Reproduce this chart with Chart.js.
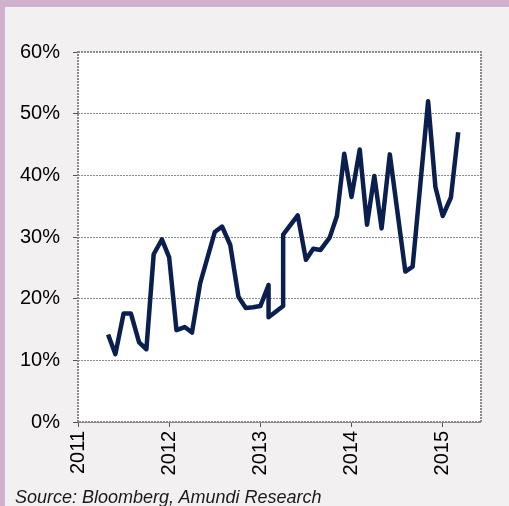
<!DOCTYPE html>
<html>
<head>
<meta charset="utf-8">
<script src="https://cdn.jsdelivr.net/npm/chart.js@4"></script>
<style>
  html, body { margin: 0; padding: 0; }
  body { width: 509px; height: 506px; overflow: hidden; position: relative;
         background: #f2f0f1; font-family: "Liberation Sans", Arial, sans-serif; }
  #topband { position: absolute; left: 0; top: 0; width: 509px; height: 7px; background: #d0b2cf; }
  #leftband { position: absolute; left: 0; top: 0; width: 5px; height: 506px; background: #d0b2cf; }
  #wrap { position: absolute; left: 0; top: 0; width: 509px; height: 506px; }
  #source { position: absolute; left: 15px; top: 488px; font-size: 18px; line-height: 18px;
            font-style: italic; color: #1a1a1a; white-space: nowrap; }
</style>
</head>
<body>
<div id="topband"></div>
<div id="leftband"></div>
<div id="wrap"><canvas id="chart" width="509" height="506"></canvas></div>
<div id="source">Source: Bloomberg, Amundi Research</div>
<script>
// x position of each reading, as a decimal year
const dates = [
  2011.33, 2011.41, 2011.50, 2011.58, 2011.67, 2011.75, 2011.83, 2011.92,
  2012.00, 2012.08, 2012.17, 2012.25, 2012.34, 2012.50, 2012.58, 2012.67,
  2012.76, 2012.84, 2012.92, 2013.00, 2013.09, 2013.09, 2013.25, 2013.25,
  2013.41, 2013.50, 2013.58, 2013.66, 2013.76, 2013.84, 2013.92, 2014.00,
  2014.09, 2014.17, 2014.25, 2014.33, 2014.42, 2014.59, 2014.67, 2014.84,
  2014.92, 2015.00, 2015.09, 2015.17
];
// values in %
const values = [
  14.2, 11.0, 17.6, 17.6, 12.9, 11.8, 27.2, 29.6,
  26.7, 14.9, 15.4, 14.5, 22.5, 30.8, 31.7, 28.7,
  20.3, 18.5, 18.6, 18.8, 22.2, 17.0, 18.8, 30.4,
  33.5, 26.3, 28.1, 27.9, 29.9, 33.4, 43.5, 36.5,
  44.2, 32.0, 39.9, 31.4, 43.4, 24.4, 25.2, 52.0,
  38.1, 33.4, 36.4, 47.0
];
const yearTicks = [2011, 2012, 2013, 2014, 2015];
const xMin = 2011, xMax = 2015.42;
const yMin = 0, yMax = 60, yStep = 10;

const points = dates.map((d, i) => ({ x: d, y: values[i] }));

// dotted box round the plot area
const frame = {
  id: 'frame',
  afterDatasetsDraw(chart) {
    const a = chart.chartArea;
    const ctx = chart.ctx;
    ctx.save();
    ctx.strokeStyle = '#8a8a8a';
    ctx.lineWidth = 2;
    ctx.setLineDash([2, 1]);
    ctx.strokeRect(a.left, a.top, a.right - a.left, a.bottom - a.top);
    ctx.restore();
  }
};

const whiteArea = {
  id: 'whiteArea',
  beforeDraw(chart) {
    const a = chart.chartArea;
    const ctx = chart.ctx;
    ctx.save();
    ctx.fillStyle = '#ffffff';
    ctx.fillRect(a.left, a.top, a.right - a.left, a.bottom - a.top);
    ctx.restore();
  }
};

const tickFont = { family: '"Liberation Sans", Arial, sans-serif', size: 20 };

new Chart(document.getElementById('chart'), {
  type: 'line',
  data: {
    datasets: [{
      data: points,
      borderColor: '#0b1f4e',
      borderWidth: 4.5,
      borderJoinStyle: 'round',
      pointRadius: 0,
      tension: 0,
      fill: false
    }]
  },
  options: {
    responsive: false,
    animation: false,
    layout: { padding: { left: 5, right: 28, top: 52, bottom: 0 } },
    plugins: {
      legend: { display: false },
      tooltip: { enabled: false }
    },
    scales: {
      x: {
        type: 'linear',
        min: xMin,
        max: xMax,
        afterFit: s => { s.height = 84; },
        afterBuildTicks: s => { s.ticks = yearTicks.map(v => ({ value: v })); },
        ticks: {
          includeBounds: false,
          minRotation: 90,
          maxRotation: 90,
          padding: 4,
          color: '#000',
          font: tickFont,
          callback: v => String(v)
        },
        grid: {
          drawOnChartArea: false,
          drawTicks: true,
          tickLength: 5,
          color: '#555'
        },
        border: { display: false }
      },
      y: {
        min: yMin,
        max: yMax,
        afterFit: s => { s.width = 73; },
        ticks: {
          stepSize: yStep,
          padding: 13,
          color: '#000',
          font: tickFont,
          callback: v => v + '%'
        },
        grid: {
          color: '#8c8c8c',
          lineWidth: 1,
          tickLength: 5,
          tickColor: '#555',
          tickBorderDash: []
        },
        border: { display: false, dash: [2, 1] }
      }
    }
  },
  plugins: [whiteArea, frame]
});
</script>
</body>
</html>
